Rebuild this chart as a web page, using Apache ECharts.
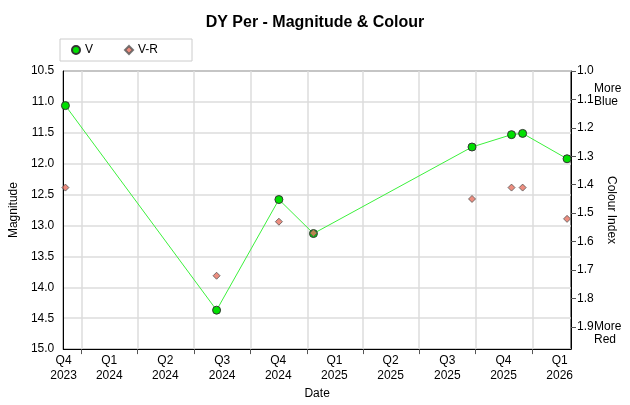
<!DOCTYPE html>
<html>
<head>
<meta charset="utf-8">
<script src="https://cdn.jsdelivr.net/npm/echarts@6/dist/echarts.min.js"></script>
<style>
  html, body { margin: 0; padding: 0; background: #fff; }
  #box { width: 630px; height: 405px; }
</style>
</head>
<body>
<div id="box"></div>
<script>
// observation dates (same for V and V-R)
var obsDates = ['2023-12-06', '2024-08-07', '2024-11-16', '2025-01-11',
                '2025-09-25', '2025-11-28', '2025-12-16', '2026-02-26'];
// V magnitude
var vMag = [11.06, 14.37, 12.58, 13.13, 11.73, 11.53, 11.51, 11.92];
// V-R colour index
var vrColour = [1.41, 1.72, 1.53, 1.57, 1.45, 1.41, 1.41, 1.52];

// quarter boundaries (ticks + vertical grid)
var quarterTicks = ['2024-01-01', '2024-04-01', '2024-07-01', '2024-10-01', '2025-01-01',
                    '2025-04-01', '2025-07-01', '2025-10-01', '2026-01-01'];
// quarter labels and where they sit
var quarterLabelDates = ['2023-12-03', '2024-02-15', '2024-05-16', '2024-08-16', '2024-11-15',
                         '2025-02-14', '2025-05-16', '2025-08-16', '2025-11-15', '2026-02-14'];
var quarterLabels = ['Q4\n2023', 'Q1\n2024', 'Q2\n2024', 'Q3\n2024', 'Q4\n2024',
                     'Q1\n2025', 'Q2\n2025', 'Q3\n2025', 'Q4\n2025', 'Q1\n2026'];
// colour index ticks
var colourTicks = [1.0, 1.1, 1.2, 1.3, 1.4, 1.5, 1.6, 1.7, 1.8, 1.9];

// dates -> day number (days since 1970-01-01)
function day(s) {
    var p = s.split('-');
    return Date.UTC(+p[0], +p[1] - 1, +p[2]) / 86400000;
}

var xMin = day('2023-12-02') + 0.5;
var xMax = day('2026-03-04') + 0.4;

var labelDays = quarterLabelDates.map(day);

var font = "'Liberation Sans', Arial, sans-serif";

var myChart = echarts.init(document.getElementById('box'));
var option = {
    animation: false,
    textStyle: { fontFamily: font, color: '#000' },
    title: {
        text: 'DY Per - Magnitude & Colour',
        left: 'center',
        top: 10,
        textStyle: { fontSize: 16, fontWeight: 'bold', color: '#000', fontFamily: font }
    },
    legend: {
        left: 60,
        top: 39,
        orient: 'horizontal',
        borderColor: '#cccccc',
        borderWidth: 1,
        padding: [4, 34, 4, 11],
        itemWidth: 8,
        itemHeight: 8,
        itemGap: 31,
        textStyle: { fontSize: 12, color: '#000', fontFamily: font, lineHeight: 14 },
        data: [
            { name: 'V', icon: 'circle' },
            { name: 'V-R', icon: 'diamond' }
        ]
    },
    grid: {
        show: true,
        left: 61,
        top: 71,
        width: 510,
        height: 284,
        borderColor: '#000',
        borderWidth: 1,
        backgroundColor: 'transparent'
    },
    xAxis: {
        type: 'value',
        min: xMin,
        max: xMax,
        name: 'Date',
        nameLocation: 'middle',
        nameGap: 32,
        nameTextStyle: { fontSize: 12, color: '#000', fontFamily: font },
        axisLine: { show: true, lineStyle: { color: '#000', width: 1 } },
        axisTick: {
            show: true,
            length: 5,
            customValues: quarterTicks.map(day),
            lineStyle: { color: '#555' }
        },
        axisLabel: {
            customValues: labelDays,
            margin: 4,
            fontSize: 12,
            lineHeight: 15,
            color: '#000',
            fontFamily: font,
            formatter: function (v) {
                var best = 0;
                for (var i = 0; i < labelDays.length; i++) {
                    if (Math.abs(labelDays[i] - v) < Math.abs(labelDays[best] - v)) best = i;
                }
                return quarterLabels[best];
            }
        },
        splitLine: { show: true, lineStyle: { color: '#dcdcdc', width: 1.5 } }
    },
    yAxis: [{
        type: 'value',
        inverse: true,
        min: 10.5,
        max: 15,
        interval: 0.5,
        name: 'Magnitude',
        nameLocation: 'middle',
        nameGap: 38,
        nameTextStyle: { fontSize: 12, color: '#000', fontFamily: font },
        axisLine: { show: true, lineStyle: { color: '#000' } },
        axisTick: { show: false },
        axisLabel: {
            margin: 9,
            fontSize: 12,
            color: '#000',
            fontFamily: font,
            formatter: function (v) { return v.toFixed(1); }
        },
        splitLine: { show: true, lineStyle: { color: '#dcdcdc', width: 1.5 } }
    }, {
        type: 'value',
        inverse: true,
        position: 'right',
        min: 1.0,
        max: 1.978,
        name: 'Colour Index',
        nameLocation: 'middle',
        nameRotate: -90,
        nameGap: 34,
        nameTextStyle: { fontSize: 12, color: '#000', fontFamily: font },
        axisLine: { show: true, lineStyle: { color: '#000' } },
        axisTick: {
            show: true,
            length: 5,
            customValues: colourTicks,
            lineStyle: { color: '#555' }
        },
        axisLabel: {
            customValues: colourTicks,
            margin: 6,
            fontSize: 12,
            color: '#000',
            fontFamily: font,
            formatter: function (v) { return v.toFixed(1); }
        },
        splitLine: { show: false }
    }],
    graphic: [{
        type: 'text',
        left: 594,
        top: 82,
        style: { text: 'More\nBlue', fontSize: 12, lineHeight: 13, fill: '#000', fontFamily: font }
    }, {
        type: 'text',
        left: 594,
        top: 320,
        style: { text: 'More\nRed', fontSize: 12, lineHeight: 13, fill: '#000', fontFamily: font }
    }],
    series: [{
        name: 'V',
        type: 'line',
        yAxisIndex: 0,
        symbol: 'circle',
        symbolSize: 8,
        data: obsDates.map(function (d, i) { return [day(d), vMag[i]]; }),
        lineStyle: { color: '#3cf03c', width: 1 },
        itemStyle: { color: '#00e000', borderColor: '#333', borderWidth: 1 },
        z: 2
    }, {
        name: 'V-R',
        type: 'scatter',
        yAxisIndex: 1,
        symbol: 'diamond',
        symbolSize: 7,
        data: obsDates.map(function (d, i) { return [day(d), vrColour[i]]; }),
        itemStyle: { color: '#e8705f', borderColor: '#555', borderWidth: 1 },
        z: 3
    }]
};

myChart.setOption(option);
</script>
</body>
</html>
